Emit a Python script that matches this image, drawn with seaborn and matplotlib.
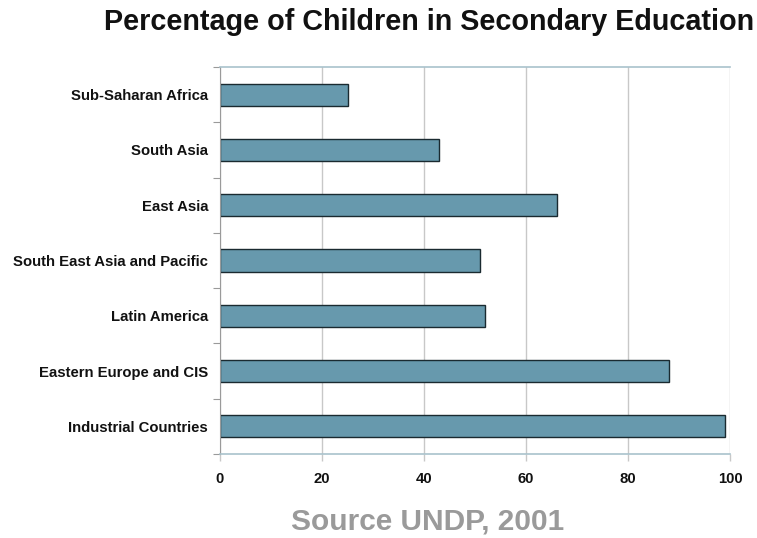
import matplotlib
matplotlib.use("Agg")
import matplotlib.pyplot as plt
from matplotlib.ticker import FixedLocator
import seaborn as sns
import pandas as pd

regions = [
    "Sub-Saharan Africa",
    "South Asia",
    "East Asia",
    "South East Asia and Pacific",
    "Latin America",
    "Eastern Europe and CIS",
    "Industrial Countries",
]
percent = [25, 43, 66, 51, 52, 88, 99]
x_ticks = [0, 20, 40, 60, 80, 100]

sns.set_style("white")
plt.rcParams["font.family"] = ["Liberation Sans", "DejaVu Sans"]

df = pd.DataFrame({"region": regions, "percent": percent})

fig = plt.figure(figsize=(7.57, 5.38), dpi=100)
ax = fig.add_axes([220 / 757, 1 - 454 / 538, 510 / 757, 387 / 538])

sns.barplot(data=df, x="percent", y="region", orient="h", color="#6799AD",
            saturation=1, width=0.4, edgecolor="#1a2a30", linewidth=1.0, ax=ax)

ax.set_xlim(0, 100)
ax.set_ylim(len(regions) - 0.5, -0.5)
ax.set_xticks(x_ticks)
ax.set_xticklabels([str(t) for t in x_ticks])
ax.set_xlabel("")
ax.set_ylabel("")

ax.grid(axis="x", color="#c8c8c8", linewidth=1.0)
ax.set_axisbelow(True)

for side in ("top", "bottom"):
    ax.spines[side].set_color("#a9c2cc")
    ax.spines[side].set_linewidth(1.2)
ax.spines["left"].set_color("#9a9a9a")
ax.spines["right"].set_visible(False)

# category boundary ticks on the left axis
ax.yaxis.set_minor_locator(FixedLocator([i + 0.5 for i in range(-1, len(regions))]))
ax.tick_params(axis="y", which="major", length=0, pad=8.5,
               labelsize=10.7, labelcolor="#111111")
ax.tick_params(axis="y", which="minor", length=5, color="#9a9a9a", width=0.8,
               direction="out", left=True)
ax.tick_params(axis="x", which="major", length=5, color="#c8c8c8", width=1.0,
               direction="out", bottom=True, pad=8, labelsize=10.7,
               labelcolor="#111111")
for lab in ax.get_yticklabels() + ax.get_xticklabels():
    lab.set_fontweight("bold")

fig.text(429 / 757, 1 - 22 / 538, "Percentage of Children in Secondary Education",
         ha="center", va="center", fontsize=20.7, fontweight="bold", color="#111111")
fig.text(428 / 757, 1 - 522 / 538, "Source UNDP, 2001", ha="center", va="center",
         fontsize=21.5, fontweight="bold", color="#9a9a9a")

fig.savefig("out.png", dpi=100)
